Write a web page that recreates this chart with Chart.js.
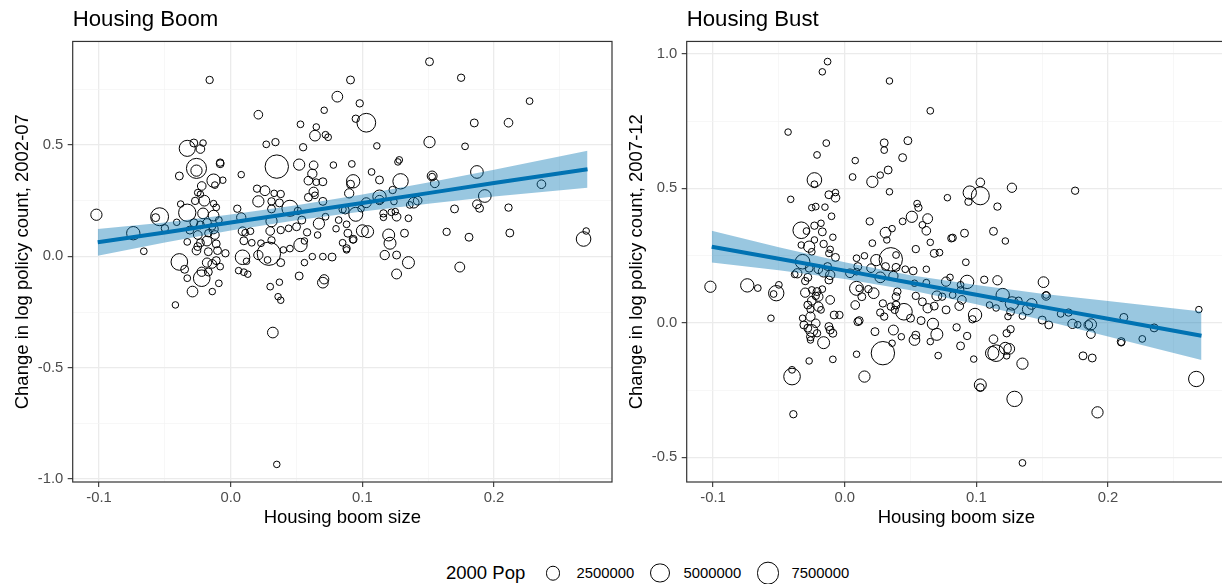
<!DOCTYPE html>
<html>
<head>
<meta charset="utf-8">
<script src="https://cdn.jsdelivr.net/npm/chart.js@4.4.0/dist/chart.umd.min.js"></script>
<style>
  html, body { margin: 0; padding: 0; background: #fff; overflow: hidden; }
  body { width: 1222px; height: 584px; position: relative; font-family: "Liberation Sans", Arial, Helvetica, sans-serif; }
  canvas { position: absolute; top: 0; }
  #boom { left: 0; }
  #bust { left: 614px; }
  .legend { position: absolute; top: 560px; left: 0; width: 1222px; height: 26px; color: #000; }
  .legend span { position: absolute; top: 50%; transform: translateY(-50%); white-space: nowrap; }
  .legend .key { border: 1px solid #000; border-radius: 50%; box-sizing: border-box; }
</style>
</head>
<body>
<canvas id="boom" width="614" height="540"></canvas>
<canvas id="bust" width="614" height="540"></canvas>
<div class="legend" id="legend"></div>
<script>
// housing boom size, change in log policy count 2002-07, 2000 population (millions)
const boomX = [
  -0.016, 0.081, 0.021, 0.071, 0.053, 0.065, 0.064, 0.072, 0.074, 0.027,
  0.034, 0.055, -0.033, -0.028, -0.021, -0.023, -0.008, -0.008, 0.035, 0.052,
  0.063, 0.078, -0.026, -0.026, -0.039, 0.008, -0.013, -0.006, 0.059, 0.062,
  0.065, 0.070, -0.022, -0.025, -0.012, 0.026, 0.020, 0.038, 0.033, 0.063,
  0.064, 0.059, 0.090, -0.020, -0.027, 0.021, 0.031, 0.037, 0.070, -0.038,
  -0.013, -0.102, -0.054, -0.057, -0.033, -0.021, -0.013, 0.005, 0.008, 0.031,
  0.045, 0.051, 0.082, 0.087, -0.041, -0.028, -0.018, 0.031, 0.067, -0.074,
  -0.050, -0.031, -0.013, 0.009, 0.011, 0.015, 0.030, 0.038, 0.044, 0.058,
  0.066, 0.080, 0.088, -0.066, -0.033, -0.025, -0.023, -0.018, -0.011, -0.026,
  -0.017, -0.010, 0.010, 0.016, 0.023, 0.031, 0.040, 0.045, 0.053, 0.056,
  0.077, 0.088, -0.039, 0.009, 0.029, 0.038, -0.035, -0.018, -0.014, -0.011,
  -0.017, 0.006, 0.010, 0.012, 0.056, 0.052, 0.071, -0.011, -0.009, -0.023,
  -0.014, -0.025, -0.017, -0.012, -0.004, -0.008, -0.022, -0.033, -0.022, -0.009,
  -0.029, -0.014, -0.023, 0.013, 0.021, 0.050, 0.054, 0.072, 0.062, 0.070,
  0.070, 0.037, 0.030, 0.036, 0.028, 0.151, 0.175, 0.091, 0.098, 0.103,
  0.095, 0.227, 0.185, 0.211, 0.151, 0.178, 0.111, 0.092, 0.128, 0.127,
  0.107, 0.113, 0.129, 0.093, 0.091, 0.123, 0.153, 0.153, 0.155, 0.187,
  0.236, 0.113, 0.113, 0.103, 0.124, 0.139, 0.142, 0.136, 0.193, 0.187,
  0.189, 0.211, 0.170, 0.085, 0.099, 0.095, 0.116, 0.122, 0.126, 0.125,
  0.135, 0.116, 0.089, 0.100, 0.104, 0.120, 0.121, 0.132, 0.164, 0.181,
  0.212, 0.093, 0.093, 0.085, 0.088, 0.117, 0.126, 0.135, 0.174, 0.126,
  0.270, 0.268, -0.042, 0.038, 0.032, 0.035
];
const boomY = [
  0.792, 0.717, 0.636, 0.656, 0.593, 0.581, 0.542, 0.546, 0.535, 0.503,
  0.513, 0.490, 0.485, 0.509, 0.509, 0.482, 0.416, 0.421, 0.403, 0.412,
  0.409, 0.410, 0.395, 0.385, 0.361, 0.367, 0.340, 0.342, 0.340, 0.371,
  0.333, 0.335, 0.316, 0.286, 0.320, 0.295, 0.304, 0.280, 0.283, 0.290,
  0.274, 0.265, 0.283, 0.250, 0.249, 0.247, 0.247, 0.240, 0.247, 0.235,
  0.237, 0.187, 0.178, 0.174, 0.196, 0.193, 0.183, 0.214, 0.175, 0.213,
  0.216, 0.204, 0.163, 0.208, 0.153, 0.151, 0.150, 0.158, 0.147, 0.104,
  0.126, 0.118, 0.122, 0.113, 0.106, 0.113, 0.114, 0.118, 0.126, 0.108,
  0.096, 0.124, 0.144, 0.023, 0.065, 0.044, 0.061, 0.069, 0.056, 0.026,
  0.021, 0.026, 0.070, 0.061, 0.059, 0.072, 0.029, 0.035, 0.051, 0.069,
  -0.003, 0.029, -0.025, -0.004, 0.012, -0.028, -0.058, -0.028, -0.034, -0.019,
  -0.070, -0.064, -0.071, -0.022, -0.028, -0.088, -0.103, 0.220, 0.163, 0.141,
  0.133, 0.096, 0.104, 0.096, 0.014, -0.046, -0.069, -0.098, -0.098, -0.121,
  -0.158, -0.158, 0.279, -0.080, 0.006, 0.133, 0.163, 0.178, -0.001, -0.001,
  -0.118, -0.116, -0.136, -0.181, -0.016, 0.874, 0.802, 0.792, 0.687, 0.600,
  0.618, 0.697, 0.599, 0.600, 0.513, 0.494, 0.496, 0.415, 0.433, 0.424,
  0.379, 0.343, 0.337, 0.337, 0.324, 0.298, 0.361, 0.358, 0.328, 0.379,
  0.324, 0.268, 0.253, 0.241, 0.246, 0.241, 0.250, 0.231, 0.271, 0.234,
  0.216, 0.219, 0.213, 0.211, 0.214, 0.189, 0.193, 0.198, 0.178, 0.201,
  0.171, 0.175, 0.104, 0.115, 0.111, 0.096, 0.059, 0.104, 0.110, 0.086,
  0.105, 0.077, 0.074, 0.061, 0.036, 0.006, 0.006, -0.028, -0.048, -0.079,
  0.114, 0.078, -0.218, -0.197, -0.342, -0.934
];
const boomPop = [
  0.25, 1.3, 0.6, 0.05, 0.1, 0.05, 1.3, 0.1, 0.1, 0.1,
  0.25, 0.25, 3.8, 0.4, 0.05, 0.6, 0.4, 0.25, 8.8, 1.5,
  0.6, 0.05, 6.3, 1.5, 0.4, 0.05, 2.4, 0.05, 0.6, 0.8,
  0.1, 0.4, 0.6, 0.1, 0.1, 1.0, 0.25, 0.25, 0.05, 0.8,
  0.1, 0.4, 0.8, 1.3, 0.25, 1.5, 0.25, 0.4, 0.4, 0.05,
  0.05, 1.5, 4.9, 0.4, 4.5, 1.3, 1.3, 0.25, 0.8, 0.4,
  3.8, 0.25, 0.1, 0.4, 0.05, 0.4, 0.6, 1.5, 1.5, 2.4,
  0.25, 0.4, 0.8, 0.6, 0.1, 0.1, 0.6, 0.25, 0.1, 0.25,
  0.05, 0.05, 0.1, 0.1, 0.1, 0.4, 0.4, 1.0, 0.4, 0.6,
  0.4, 0.4, 0.4, 0.1, 0.1, 0.25, 0.05, 0.1, 2.4, 0.05,
  0.4, 0.05, 4.1, 3.0, 8.8, 0.4, 0.4, 0.8, 0.6, 0.4,
  0.4, 0.05, 0.1, 0.05, 0.05, 0.4, 0.8, 0.1, 0.1, 0.4,
  0.1, 0.6, 0.25, 0.6, 0.25, 0.1, 0.8, 0.1, 4.1, 0.1,
  1.3, 0.05, 0.05, 0.05, 0.8, 0.4, 0.4, 0.1, 0.05, 0.1,
  1.3, 0.05, 0.1, 0.05, 0.1, 0.4, 0.25, 0.4, 0.25, 5.4,
  0.25, 0.1, 0.4, 0.6, 1.5, 0.1, 0.05, 0.1, 0.1, 0.05,
  0.1, 0.4, 3.4, 2.4, 0.4, 0.25, 1.0, 0.1, 0.6, 2.1,
  0.6, 2.4, 0.8, 1.0, 0.05, 1.3, 0.6, 0.1, 2.1, 0.6,
  0.4, 0.25, 0.4, 0.25, 0.05, 2.7, 0.25, 0.1, 0.6, 0.05,
  0.1, 0.05, 0.4, 1.8, 1.8, 1.8, 1.8, 0.4, 0.25, 0.4,
  0.4, 0.4, 0.05, 0.1, 0.25, 0.8, 0.4, 1.8, 1.0, 1.0,
  0.05, 3.0, 0.05, 0.05, 1.3, 0.05
];

// housing boom size, change in log policy count 2007-12, 2000 population (millions)
const bustX = [
  -0.013, -0.017, 0.034, 0.065, -0.043, -0.014, -0.021, 0.030, 0.030, 0.048,
  0.044, 0.008, 0.033, 0.027, 0.006, 0.021, -0.023, -0.023, 0.034, -0.041,
  -0.012, -0.007, -0.007, -0.025, -0.022, -0.015, -0.010, 0.055, 0.056, 0.078,
  0.051, 0.063, 0.059, 0.062, 0.044, 0.019, 0.031, 0.036, -0.033, -0.029,
  -0.023, -0.018, -0.017, -0.009, 0.103, 0.095, 0.103, 0.094, 0.127, 0.175,
  0.116, 0.091, 0.082, 0.113, 0.122, -0.016, -0.023, -0.033, -0.027, -0.025,
  -0.012, -0.011, -0.007, -0.032, -0.036, -0.038, -0.028, -0.027, -0.020, -0.016,
  -0.013, -0.011, -0.012, -0.025, -0.030, -0.021, -0.020, -0.022, -0.025, -0.017,
  -0.011, -0.028, -0.020, -0.026, -0.018, -0.008, -0.004, -0.032, -0.026, -0.022,
  -0.031, -0.028, -0.025, -0.021, -0.012, -0.011, -0.026, -0.009, -0.016, -0.026,
  -0.009, -0.027, -0.052, -0.054, -0.050, -0.056, -0.040, 0.009, 0.015, 0.010,
  0.004, 0.009, 0.021, 0.032, 0.035, 0.039, 0.024, 0.020, 0.031, 0.039,
  0.046, 0.027, 0.037, 0.052, 0.062, 0.054, 0.068, 0.072, 0.065, 0.081,
  0.009, 0.011, 0.013, 0.008, 0.010, 0.011, 0.018, 0.022, 0.029, 0.027,
  0.030, 0.035, 0.039, 0.045, 0.038, 0.050, 0.040, 0.039, 0.054, 0.059,
  0.068, 0.070, 0.074, 0.077, 0.080, 0.082, 0.067, 0.058, 0.070, 0.065,
  0.054, 0.053, 0.037, 0.043, 0.023, 0.036, 0.029, 0.009, 0.071, -0.102,
  -0.074, -0.066, -0.030, -0.039, -0.040, 0.015, 0.053, 0.062, 0.063, 0.077,
  0.092, 0.093, 0.088, 0.088, 0.106, 0.116, 0.089, 0.087, 0.120, 0.127,
  0.132, 0.110, 0.115, 0.126, 0.124, 0.135, 0.139, 0.142, 0.099, 0.097,
  0.085, 0.093, 0.088, 0.098, 0.113, 0.123, 0.126, 0.115, 0.112, 0.122,
  0.125, 0.123, 0.135, 0.103, 0.103, 0.129, 0.151, 0.153, 0.153, 0.150,
  0.155, 0.164, 0.170, 0.173, 0.177, 0.185, 0.187, 0.187, 0.181, 0.188,
  0.212, 0.210, 0.210, 0.226, 0.235, 0.269, 0.267, 0.192, 0.135
];
const bustY = [
  0.971, 0.933, 0.899, 0.788, 0.709, 0.668, 0.624, 0.669, 0.642, 0.677,
  0.614, 0.603, 0.568, 0.549, 0.542, 0.524, 0.531, 0.515, 0.487, 0.459,
  0.476, 0.484, 0.465, 0.428, 0.432, 0.430, 0.396, 0.443, 0.428, 0.465,
  0.394, 0.387, 0.364, 0.342, 0.377, 0.377, 0.335, 0.350, 0.344, 0.341,
  0.361, 0.370, 0.338, 0.318, 0.522, 0.484, 0.472, 0.450, 0.502, 0.491,
  0.432, 0.333, 0.316, 0.340, 0.304, 0.293, 0.308, 0.289, 0.283, 0.264,
  0.258, 0.273, 0.243, 0.227, 0.184, 0.180, 0.169, 0.203, 0.199, 0.190,
  0.209, 0.178, 0.159, 0.122, 0.112, 0.116, 0.097, 0.100, 0.082, 0.125,
  0.085, 0.066, 0.060, 0.050, 0.048, 0.029, 0.029, 0.017, 0.023, -0.002,
  -0.008, -0.020, -0.029, -0.039, -0.014, -0.027, -0.052, -0.039, -0.074, -0.064,
  -0.136, -0.142, 0.110, 0.107, 0.141, 0.017, -0.175, 0.240, 0.249, 0.209,
  0.184, 0.190, 0.296, 0.308, 0.236, 0.252, 0.233, 0.203, 0.209, 0.206,
  0.199, 0.169, 0.174, 0.193, 0.199, 0.274, 0.258, 0.261, 0.299, 0.314,
  0.128, 0.128, 0.097, 0.066, 0.004, 0.008, 0.125, 0.110, 0.072, 0.038,
  0.023, 0.060, 0.066, 0.041, 0.048, 0.017, 0.116, 0.097, 0.100, 0.078,
  0.062, 0.100, 0.097, 0.048, 0.169, 0.103, -0.004, 0.008, -0.043, -0.070,
  -0.046, -0.064, -0.027, -0.052, -0.033, -0.076, -0.113, -0.117, -0.122, 0.134,
  0.139, 0.129, 0.155, -0.340, -0.200, -0.200, 0.147, 0.149, 0.054, 0.153,
  0.225, 0.152, 0.141, 0.122, 0.160, 0.158, 0.085, 0.062, 0.103, 0.072,
  0.082, 0.066, 0.055, 0.041, 0.023, 0.025, 0.050, 0.070, 0.029, 0.013,
  -0.017, -0.049, -0.086, -0.135, -0.061, -0.039, -0.024, -0.113, -0.113, -0.095,
  -0.097, -0.123, -0.152, -0.231, -0.241, -0.283, 0.151, 0.100, 0.103, 0.010,
  -0.008, 0.033, 0.038, -0.004, -0.007, -0.008, -0.006, -0.042, -0.123, -0.131,
  0.020, -0.070, -0.074, -0.060, -0.019, 0.049, -0.209, -0.333, -0.521
];
const bustPop = [
  0.1, 0.05, 0.05, 0.1, 0.05, 0.1, 0.1, 0.4, 0.1, 0.4,
  0.4, 0.05, 0.4, 0.05, 0.1, 1.5, 3.0, 0.1, 0.05, 0.05,
  0.4, 0.05, 0.6, 0.05, 0.1, 0.05, 0.1, 0.1, 0.25, 0.05,
  1.5, 1.0, 0.1, 0.6, 0.1, 0.25, 1.3, 0.05, 4.1, 0.1,
  0.25, 0.05, 0.4, 0.05, 0.6, 2.4, 4.9, 0.25, 0.8, 0.25,
  0.25, 0.4, 0.25, 0.4, 0.05, 0.25, 0.05, 0.05, 1.5, 0.1,
  0.1, 0.05, 0.4, 3.0, 0.8, 0.1, 0.4, 0.4, 0.6, 1.3,
  0.4, 0.8, 0.4, 0.1, 0.8, 0.4, 0.8, 0.25, 0.6, 0.1,
  0.6, 0.4, 0.8, 0.25, 0.1, 0.4, 0.25, 0.05, 0.8, 0.6,
  0.4, 0.4, 1.8, 0.25, 0.4, 0.4, 0.4, 0.4, 1.8, 0.05,
  0.1, 0.05, 3.4, 0.1, 0.1, 0.05, 0.1, 0.1, 0.05, 0.4,
  0.6, 0.1, 0.1, 0.05, 8.8, 0.1, 1.5, 0.6, 0.4, 0.4,
  0.1, 1.3, 0.8, 0.4, 0.05, 0.25, 0.4, 0.1, 0.05, 0.25,
  2.7, 0.1, 0.4, 0.6, 0.4, 0.4, 0.25, 1.3, 0.25, 0.25,
  0.25, 0.25, 0.4, 4.1, 0.25, 0.4, 0.25, 0.4, 0.25, 0.4,
  0.4, 1.0, 0.25, 0.4, 0.05, 0.1, 1.5, 0.4, 1.8, 0.05,
  0.4, 1.3, 1.0, 0.05, 0.4, 0.05, 8.8, 0.05, 0.1, 1.5,
  2.4, 0.1, 0.25, 0.25, 4.1, 1.5, 0.05, 0.1, 0.8, 0.8,
  0.1, 2.4, 0.1, 0.1, 0.25, 0.8, 0.6, 0.6, 2.4, 2.4,
  0.25, 0.05, 0.05, 0.4, 0.05, 0.1, 1.3, 1.3, 2.4, 0.25,
  0.25, 0.25, 0.4, 0.05, 0.6, 0.25, 0.25, 4.1, 2.4, 1.8,
  1.3, 0.05, 1.5, 1.8, 0.4, 3.4, 1.3, 0.6, 0.05, 0.4,
  0.4, 0.1, 0.25, 0.8, 0.05, 0.6, 1.5, 0.6, 0.4, 0.4,
  0.4, 0.4, 0.1, 0.1, 0.4, 0.05, 3.4, 1.5, 0.1
];

// linear fits with 95% band, read at these x values
const fitX = [-0.101, -0.05, 0, 0.05, 0.1, 0.15, 0.2, 0.271];
const boomFit = [0.063, 0.107, 0.152, 0.196, 0.240, 0.284, 0.329, 0.391];
const boomLow = [0.003, 0.062, 0.116, 0.162, 0.202, 0.236, 0.269, 0.308];
const boomHigh = [0.123, 0.152, 0.188, 0.230, 0.278, 0.332, 0.389, 0.474];
const bustFit = [0.283, 0.238, 0.194, 0.149, 0.104, 0.059, 0.015, -0.048];
const bustLow = [0.224, 0.195, 0.163, 0.121, 0.069, 0.010, -0.051, -0.138];
const bustHigh = [0.342, 0.281, 0.225, 0.177, 0.140, 0.108, 0.081, 0.042];

const xTicks = [-0.1, -0.05, 0, 0.05, 0.1, 0.15, 0.2, 0.25];
const boomYTicks = [-1, -0.75, -0.5, -0.25, 0, 0.25, 0.5, 0.75];
const bustYTicks = [-0.5, -0.25, 0, 0.25, 0.5, 0.75, 1];
const legendPop = [2500000, 5000000, 7500000];

const FONT = '"Liberation Sans", Arial, Helvetica, sans-serif';

function popRadius(millions) {
  return Math.sqrt(10 + 14.4 * millions);
}

function onStep(v, step) {
  const q = v / step;
  return Math.abs(q - Math.round(q)) < 1e-6;
}

function gridOpts(step) {
  const major = c => c.tick && onStep(c.tick.value, step);
  return {
    color: c => major(c) ? '#EBEBEB' : '#F3F3F3',
    lineWidth: c => major(c) ? 1.3 : 0.7,
    tickColor: c => major(c) ? '#333333' : 'rgba(0,0,0,0)',
    tickLength: 5,
    tickWidth: 1.1,
    drawTicks: true
  };
}

const panelBorder = {
  id: 'panelBorder',
  afterDraw(chart) {
    const { ctx, chartArea: a } = chart;
    ctx.save();
    ctx.strokeStyle = '#333333';
    ctx.lineWidth = 1.2;
    ctx.strokeRect(a.left, a.top, a.right - a.left, a.bottom - a.top);
    ctx.restore();
  }
};

function makePanel(id, title, yTitle, xs, ys, pops, fit, low, high, yMin, yMax, yTicks) {
  const points = xs.map((x, i) => ({ x: x, y: ys[i], r: popRadius(pops[i]) }));
  const line = arr => fitX.map((x, i) => ({ x: x, y: arr[i] }));

  return new Chart(document.getElementById(id), {
    type: 'bubble',
    data: {
      datasets: [
        { data: points, backgroundColor: 'rgba(0,0,0,0)', borderColor: '#000', borderWidth: 1, hoverBorderWidth: 1, order: 2 },
        { type: 'line', data: line(low), borderColor: 'rgba(0,0,0,0)', pointRadius: 0, fill: false, order: 1 },
        { type: 'line', data: line(high), borderColor: 'rgba(0,0,0,0)', backgroundColor: 'rgba(0,114,178,0.4)', pointRadius: 0, fill: '-1', order: 1 },
        { type: 'line', data: line(fit), borderColor: '#0072B2', borderWidth: 4, pointRadius: 0, fill: false, order: 0 }
      ]
    },
    options: {
      responsive: false,
      animation: false,
      events: [],
      layout: { padding: { left: 0, right: 2, top: 0, bottom: 0 }, autoPadding: false },
      plugins: {
        legend: { display: false },
        tooltip: { enabled: false },
        title: {
          display: true, text: title, align: 'start', fullSize: false, color: '#000',
          font: { family: FONT, size: 22.2, weight: 'normal' },
          padding: { top: 6.5, bottom: 8.3 }
        }
      },
      scales: {
        x: {
          type: 'linear', min: -0.12, max: 0.2896,
          afterBuildTicks: s => { s.ticks = xTicks.map(v => ({ value: v })); },
          afterFit: s => { s.height = 58; },
          ticks: {
            padding: 2, color: '#4D4D4D', font: { family: FONT, size: 14.8 },
            maxRotation: 0, minRotation: 0, autoSkip: false,
            callback: v => onStep(v, 0.1) ? v.toFixed(1) : ''
          },
          grid: gridOpts(0.1),
          border: { display: false },
          title: {
            display: true, text: 'Housing boom size', color: '#000',
            font: { family: FONT, size: 18.5 }, padding: { top: 0, bottom: 10.5 }
          }
        },
        y: {
          type: 'linear', min: yMin, max: yMax,
          afterBuildTicks: s => { s.ticks = yTicks.map(v => ({ value: v })); },
          afterFit: s => { s.width = 72.7; },
          ticks: {
            padding: 4.4, color: '#4D4D4D', font: { family: FONT, size: 14.8 },
            autoSkip: false,
            callback: v => onStep(v, 0.5) ? v.toFixed(1) : ''
          },
          grid: gridOpts(0.5),
          border: { display: false },
          title: {
            display: true, text: yTitle, color: '#000',
            font: { family: FONT, size: 18.5 }, padding: { top: 11.5, bottom: 0 }
          }
        }
      }
    },
    plugins: [panelBorder]
  });
}

makePanel('boom', 'Housing Boom', 'Change in log policy count, 2002-07',
  boomX, boomY, boomPop, boomFit, boomLow, boomHigh, -1.013, 0.965, boomYTicks);
makePanel('bust', 'Housing Bust', 'Change in log policy count, 2007-12',
  bustX, bustY, bustPop, bustFit, bustLow, bustHigh, -0.592, 1.046, bustYTicks);

// size legend
const keyX = [553, 660, 768];
let html = '<span style="left:446px;font-size:18.5px">2000 Pop</span>';
legendPop.forEach((p, i) => {
  const d = 2 * popRadius(p / 1e6) + 1;
  html += `<span class="key" style="left:${keyX[i] - d / 2}px;width:${d}px;height:${d}px"></span>`;
  html += `<span style="left:${keyX[i] + 23.5}px;font-size:14.8px">${p}</span>`;
});
document.getElementById('legend').innerHTML = html;
</script>
</body>
</html>
